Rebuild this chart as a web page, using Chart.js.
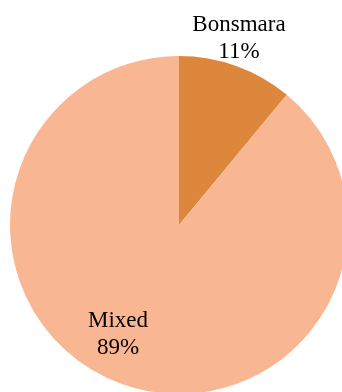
<!DOCTYPE html>
<html><head><meta charset="utf-8">
<script src="https://cdn.jsdelivr.net/npm/chart.js@4"></script>
<style>
html,body{margin:0;padding:0;width:342px;height:392px;overflow:hidden;background:#fff;}
#wrap{position:absolute;left:0;top:0;width:358px;height:450px;}
</style></head><body>
<div id="wrap"><canvas id="c" width="358" height="450"></canvas></div>
<script>
const categories = ["Bonsmara", "Mixed"];
const values = [11, 89];
const valueLabels = ["11%", "89%"];
const colors = ["#DD873D", "#F8B692"];

const labelPlugin = {
  id: 'labels',
  afterDatasetsDraw(chart) {
    const ctx = chart.ctx;
    const arcs = chart.getDatasetMeta(0).data;
    const cx = arcs[0].x, cy = arcs[0].y;
    const offsets = [[60, -194], [-61, 102]];
    ctx.save();
    ctx.fillStyle = '#000';
    ctx.font = '23px "Liberation Serif", "DejaVu Serif", serif';
    ctx.textAlign = 'center';
    ctx.textBaseline = 'alphabetic';
    categories.forEach((c, i) => {
      const x = cx + offsets[i][0], y = cy + offsets[i][1];
      ctx.fillText(c, x, y);
      ctx.fillText(valueLabels[i], x, y + 27);
    });
    ctx.restore();
  }
};

new Chart(document.getElementById('c'), {
  type: 'pie',
  data: {
    labels: categories,
    datasets: [{ data: values, backgroundColor: colors, borderWidth: 0 }]
  },
  options: {
    responsive: false,
    animation: false,
    layout: { padding: { left: 10, top: 56, right: 10, bottom: 56 } },
    plugins: { legend: { display: false }, tooltip: { enabled: false } }
  },
  plugins: [labelPlugin]
});
</script>
</body></html>
